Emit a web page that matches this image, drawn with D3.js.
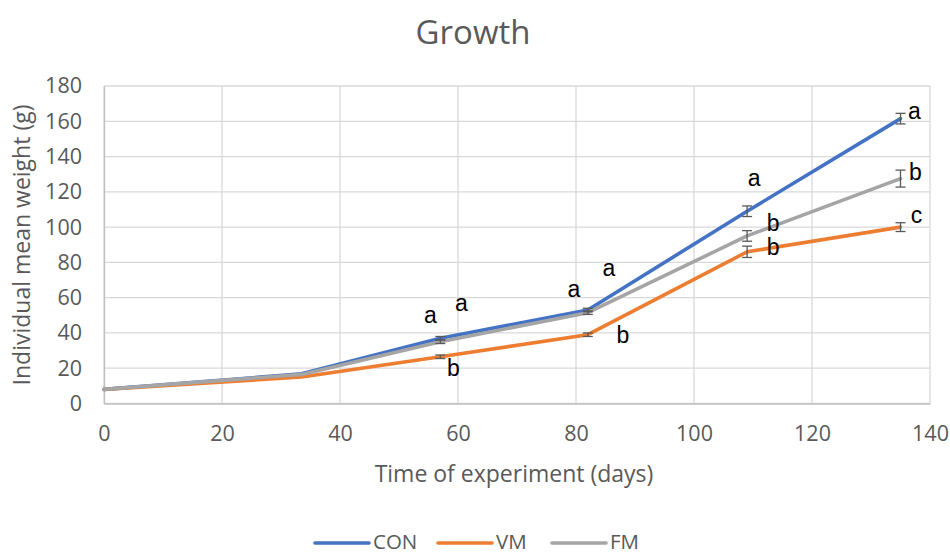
<!DOCTYPE html>
<html>
<head>
<meta charset="utf-8">
<script src="https://cdn.jsdelivr.net/npm/d3@7"></script>
<style>
  html, body { margin: 0; padding: 0; background: #fff; }
  svg { display: block; }
</style>
</head>
<body>
<svg id="chart" width="950" height="554"></svg>
<script>
// Sampling days and mean weights (g) per diet
const days = [0, 33.5, 57, 82, 109, 135];
const conWeight = [8, 16.8, 37, 53, 109, 161.5];
const vmWeight  = [8, 15, 26.5, 39, 86, 100];
const fmWeight  = [8, 16.5, 35, 51.5, 95, 127.5];

// Standard deviations for the error bars
const conErr = [0, 0, 1, 1, 3, 3];
const vmErr  = [0, 0, 1, 1, 3.2, 2.5];
const fmErr  = [0, 0, 1, 1, 3, 4.8];

// Significance letters per sampling day
const conLetters = ["", "", "a", "a", "a", "a"];
const vmLetters  = ["", "", "b", "b", "b", "c"];
const fmLetters  = ["", "", "a", "a", "b", "b"];

const xTicks = [0, 20, 40, 60, 80, 100, 120, 140];
const yTicks = [0, 20, 40, 60, 80, 100, 120, 140, 160, 180];

const seriesNames = ["CON", "VM", "FM"];
const colors = { CON: "#4472C4", VM: "#ED7D31", FM: "#A5A5A5" };

const svg = d3.select("#chart");
const plot = { left: 104, right: 930, top: 86, bottom: 403.5 };

const x = d3.scaleLinear().domain([0, 140]).range([plot.left, plot.right]);
const y = d3.scaleLinear().domain([0, 180]).range([plot.bottom, plot.top]);

const textColor = "#595959";
const uiFont = "'Open Sans', 'Segoe UI', 'Noto Sans', sans-serif";

// Gridlines
svg.append("g").selectAll("line").data(yTicks).join("line")
  .attr("x1", x(0)).attr("x2", x(140))
  .attr("y1", d => y(d)).attr("y2", d => y(d))
  .attr("stroke", "#d9d9d9").attr("stroke-width", 1.3);
svg.append("g").selectAll("line").data(xTicks).join("line")
  .attr("y1", y(0)).attr("y2", y(180))
  .attr("x1", d => x(d)).attr("x2", d => x(d))
  .attr("stroke", "#d9d9d9").attr("stroke-width", 1.3);

// Axes
const xAxis = d3.axisBottom(x).tickValues(xTicks).tickSize(0).tickPadding(22);
const yAxis = d3.axisLeft(y).tickValues(yTicks).tickSize(0).tickPadding(22);

const gx = svg.append("g").attr("transform", `translate(0,${y(0)})`).call(xAxis);
gx.select(".domain").attr("stroke", "#bfbfbf").attr("stroke-width", 1.3);
gx.selectAll("text").attr("font-family", uiFont).attr("font-size", 21.5).attr("fill", textColor);

const gy = svg.append("g").attr("transform", `translate(${x(0)},0)`).call(yAxis);
gy.select(".domain").attr("stroke", "#bfbfbf").attr("stroke-width", 1.3);
gy.selectAll("text").attr("font-family", uiFont).attr("font-size", 21.5).attr("fill", textColor);

// Title and axis titles
svg.append("text").attr("x", 473).attr("y", 32).attr("dy", "0.35em").attr("text-anchor", "middle")
  .attr("font-family", uiFont).attr("font-size", 33).attr("fill", textColor).text("Growth");
svg.append("text").attr("x", 514).attr("y", 474).attr("dy", "0.35em").attr("text-anchor", "middle")
  .attr("font-family", uiFont).attr("font-size", 23).attr("fill", textColor)
  .text("Time of experiment (days)");
svg.append("text").attr("transform", "translate(22,245) rotate(-90)")
  .attr("dy", "0.35em").attr("text-anchor", "middle")
  .attr("font-family", uiFont).attr("font-size", 23).attr("fill", textColor)
  .text("Individual mean weight (g)");

// Series
const series = [
  { name: "CON", values: conWeight, err: conErr, letters: conLetters },
  { name: "VM",  values: vmWeight,  err: vmErr,  letters: vmLetters },
  { name: "FM",  values: fmWeight,  err: fmErr,  letters: fmLetters }
];

const line = d3.line().x(d => x(d[0])).y(d => y(d[1]));

series.forEach(s => {
  const pts = days.map((d, i) => [d, s.values[i]]);
  svg.append("path").datum(pts)
    .attr("d", line).attr("fill", "none")
    .attr("stroke", colors[s.name]).attr("stroke-width", 3.6)
    .attr("stroke-linejoin", "round").attr("stroke-linecap", "round");
});

// Error bars
const eb = svg.append("g").attr("stroke", "#595959").attr("stroke-width", 1.3);
series.forEach(s => {
  days.forEach((d, i) => {
    const e = s.err[i];
    if (!e) return;
    const cx = x(d), y1 = y(s.values[i] + e), y2 = y(s.values[i] - e);
    eb.append("line").attr("x1", cx).attr("x2", cx).attr("y1", y1).attr("y2", y2);
    eb.append("line").attr("x1", cx - 5).attr("x2", cx + 5).attr("y1", y1).attr("y2", y1);
    eb.append("line").attr("x1", cx - 5).attr("x2", cx + 5).attr("y1", y2).attr("y2", y2);
  });
});

// Significance letters, placed relative to each point (pixel offsets)
const letterOffsets = {
  CON: [null, null, [-10, -23], [-14, -21], [7, -33], [14, -8]],
  VM:  [null, null, [13, 11], [35, 0], [26, -5], [16, -12]],
  FM:  [null, null, [21, -39], [21, -45], [26, -13], [15, -7]]
};
const lg = svg.append("g").attr("font-family", "'Liberation Sans', Arial, sans-serif")
  .attr("font-size", 23).attr("fill", "#000").attr("text-anchor", "middle");
series.forEach(s => {
  days.forEach((d, i) => {
    const off = letterOffsets[s.name][i];
    if (!s.letters[i] || !off) return;
    lg.append("text")
      .attr("x", x(d) + off[0])
      .attr("y", y(s.values[i]) + off[1])
      .attr("dy", "0.35em")
      .text(s.letters[i]);
  });
});

// Legend
const legendX = [315, 438, 552];
const legend = svg.append("g");
seriesNames.forEach((n, i) => {
  const g = legend.append("g").attr("transform", `translate(${legendX[i]},542)`);
  g.append("line").attr("x1", 0).attr("x2", 54).attr("y1", 1).attr("y2", 1)
    .attr("stroke", colors[n]).attr("stroke-width", 3.6).attr("stroke-linecap", "round");
  g.append("text").attr("x", 58).attr("y", 0).attr("dy", "0.32em")
    .attr("font-family", uiFont).attr("font-size", 20.5).attr("fill", textColor).text(n);
});
</script>
</body>
</html>
